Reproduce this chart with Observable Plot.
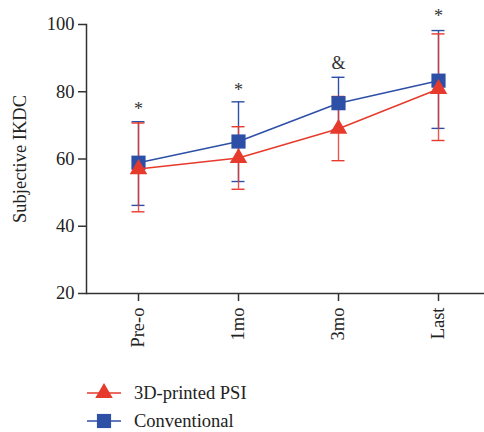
<!DOCTYPE html>
<html>
<head>
<meta charset="utf-8">
<script src="https://cdn.jsdelivr.net/npm/d3@7"></script>
<script src="https://cdn.jsdelivr.net/npm/@observablehq/plot@0.6"></script>
<style>
  body { margin: 0; background: #fff; font-family: "Liberation Serif", "DejaVu Serif", serif; overflow: hidden; }
  #legend { position: relative; height: 60px; }
  .row { position: absolute; left: 86px; display: flex; align-items: center; font-size: 18.5px; color: #222; line-height: 20px; }
  .row svg { margin-right: 12px; }
</style>
</head>
<body>
<div id="chart"></div>
<div id="legend"></div>
<script>
const categories = ["Pre-o", "1mo", "3mo", "Last"];
const seriesNames = ["3D-printed PSI", "Conventional"];
const psiMean = [57.0, 60.3, 69.0, 80.8];
const psiLow  = [44.3, 51.0, 59.5, 65.5];
const psiHigh = [70.7, 69.6, 78.6, 97.2];
const convMean = [58.9, 65.2, 76.6, 83.3];
const convLow  = [46.2, 53.3, 68.6, 69.1];
const convHigh = [71.1, 77.0, 84.3, 98.2];
const markLabels = ["*", "*", "&", "*"];
const markY = [74.8, 80.5, 88.5, 102.6];
const yTicks = [20, 40, 60, 80, 100];

const red = "#e63a2c";
const blue = "#2d4fa6";

const conv = categories.map((c, i) => ({cat: c, mean: convMean[i], lo: convLow[i], hi: convHigh[i]}));
const psi = categories.map((c, i) => ({cat: c, mean: psiMean[i], lo: psiLow[i], hi: psiHigh[i]}));
const notes = categories.map((c, i) => ({cat: c, y: markY[i], t: markLabels[i]}));

const font = "Liberation Serif, DejaVu Serif, serif";

const plot = Plot.plot({
  width: 484,
  height: 372,
  marginLeft: 86,
  marginRight: 0,
  marginTop: 24,
  marginBottom: 79,
  style: {fontFamily: font, fontSize: "18px", color: "#222", background: "#fff"},
  x: {type: "band", domain: categories, range: [86.5, 490], padding: 0},
  y: {domain: [20, 100]},
  marks: [
    Plot.axisY({ticks: yTicks, tickSize: 8, tickPadding: 4, stroke: "#333", strokeWidth: 1.5,
      label: "Subjective IKDC", labelAnchor: "center", labelArrow: "none", labelOffset: 74, fontSize: 18.5}),
    Plot.axisX({tickSize: 8, tickPadding: 6, tickRotate: -90, stroke: "#333", strokeWidth: 1.5, label: null, fontSize: 18.5}),
    Plot.ruleY([20], {stroke: "#333", strokeWidth: 1.5}),
    Plot.frame({anchor: "left", stroke: "#333", strokeWidth: 1.5}),
    // Conventional error bars
    Plot.ruleX(conv, {x: "cat", y1: "lo", y2: "hi", stroke: blue, strokeWidth: 1.4}),
    Plot.tickY(conv, {x: "cat", y: "lo", stroke: blue, strokeWidth: 1.4, insetLeft: 43.5, insetRight: 43.5}),
    Plot.tickY(conv, {x: "cat", y: "hi", stroke: blue, strokeWidth: 1.4, insetLeft: 43.5, insetRight: 43.5}),
    // PSI error bars
    Plot.ruleX(psi, {x: "cat", y1: "lo", y2: "hi", stroke: red, strokeWidth: 1.4, strokeOpacity: 0.85}),
    Plot.tickY(psi, {x: "cat", y: "lo", stroke: red, strokeWidth: 1.4, insetLeft: 43.5, insetRight: 43.5}),
    Plot.tickY(psi, {x: "cat", y: "hi", stroke: red, strokeWidth: 1.4, insetLeft: 43.5, insetRight: 43.5}),
    // lines
    Plot.line(conv, {x: "cat", y: "mean", stroke: blue, strokeWidth: 1.5}),
    Plot.dot(conv, {x: "cat", y: "mean", symbol: "square", r: 8, fill: blue, stroke: "none"}),
    Plot.line(psi, {x: "cat", y: "mean", stroke: red, strokeWidth: 1.5}),
    Plot.dot(psi, {x: "cat", y: "mean", symbol: "triangle", r: 6.5, fill: red, stroke: "none"}),
    // significance marks
    Plot.text(notes, {x: "cat", y: "y", text: "t", fontSize: 18, fill: "#333", fontFamily: font})
  ]
});
document.getElementById("chart").appendChild(plot);

// legend
const legend = document.getElementById("legend");
const symbols = [
  {name: seriesNames[0], color: red, shape: "tri"},
  {name: seriesNames[1], color: blue, shape: "sq"}
];
symbols.forEach((s, i) => {
  const row = document.createElement("div");
  row.className = "row";
  row.style.top = (i === 0 ? 9 : 37) + "px";
  const ns = "http://www.w3.org/2000/svg";
  const svg = document.createElementNS(ns, "svg");
  svg.setAttribute("width", 36); svg.setAttribute("height", 24);
  const ln = document.createElementNS(ns, "line");
  ln.setAttribute("x1", 1); ln.setAttribute("x2", 35); ln.setAttribute("y1", 12); ln.setAttribute("y2", 12);
  ln.setAttribute("stroke", s.color); ln.setAttribute("stroke-width", 1.5);
  svg.appendChild(ln);
  const p = document.createElementNS(ns, "path");
  const sym = s.shape === "tri" ? d3.symbolTriangle : d3.symbolSquare;
  const size = s.shape === "tri" ? Math.PI * 6.5 * 6.5 : Math.PI * 8 * 8;
  p.setAttribute("d", d3.symbol(sym, size)());
  p.setAttribute("transform", "translate(18,12)");
  p.setAttribute("fill", s.color);
  svg.appendChild(p);
  row.appendChild(svg);
  const t = document.createElement("span");
  t.textContent = s.name;
  row.appendChild(t);
  legend.appendChild(row);
});
</script>
</body>
</html>
